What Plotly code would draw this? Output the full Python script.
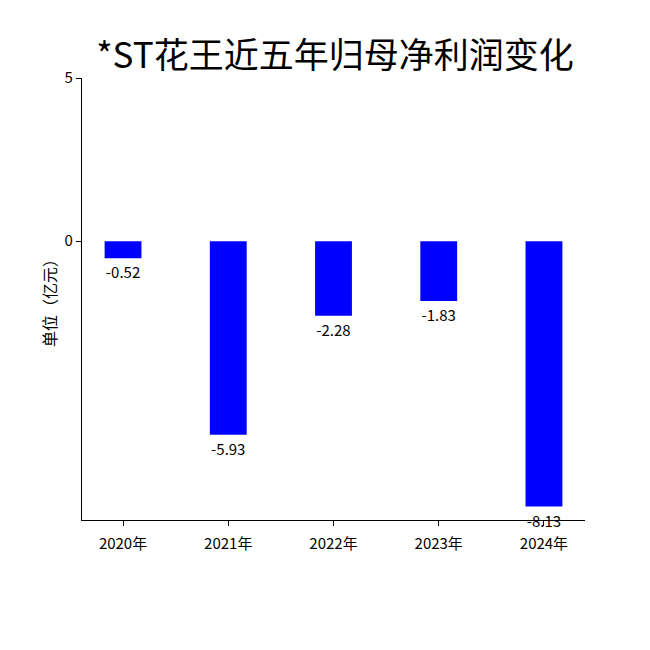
import plotly.graph_objects as go

years = ["2020年", "2021年", "2022年", "2023年", "2024年"]
profits = [-0.52, -5.93, -2.28, -1.83, -8.13]
labels = ["-0.52", "-5.93", "-2.28", "-1.83", "-8.13"]
title = "*ST花王近五年归母净利润变化"
ylabel = "单位（亿元）"

FONT = "Noto Sans CJK SC"

fig = go.Figure(go.Bar(
    x=list(range(len(years))), y=profits, width=0.35,
    marker=dict(color="#0000ff", line=dict(width=0)),
    text=labels, textposition="outside", cliponaxis=False,
    textfont=dict(family=FONT, size=15, color="black"),
))

fig.update_layout(
    width=650, height=650,
    paper_bgcolor="white", plot_bgcolor="white",
    margin=dict(l=74, r=73, t=70, b=138, autoexpand=False),
    title=dict(text=title, x=0.503, xanchor="center", y=0.926, yanchor="middle",
               font=dict(family=FONT, size=35, color="black")),
    font=dict(family=FONT, color="black"),
    showlegend=False,
)
fig.update_xaxes(
    range=[-0.39, 4.39], tickmode="array", tickvals=list(range(len(years))), ticktext=years,
    showline=True, linecolor="black", linewidth=1.3, ticks="outside", ticklen=5,
    tickcolor="black", showgrid=False, zeroline=False, layer="above traces",
    tickfont=dict(family=FONT, size=15), automargin=False, ticklabelstandoff=5,
)
fig.update_yaxes(
    range=[-8.54, 5], tickmode="array", tickvals=[0, 5], ticktext=["0", "5"],
    showline=True, linecolor="black", linewidth=1.3, ticks="outside", ticklen=5,
    tickcolor="black", showgrid=False, zeroline=False, automargin=False,
    tickfont=dict(family=FONT, size=15),
    title=dict(text=ylabel, font=dict(family=FONT, size=16), standoff=3),
)

fig.write_html("out.html")
